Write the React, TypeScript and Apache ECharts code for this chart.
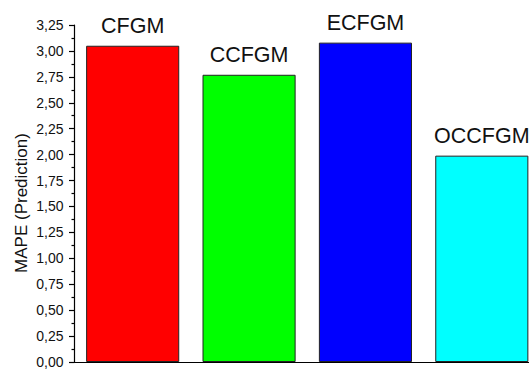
import React, { useEffect, useRef } from "react";
import * as echarts from "echarts";

// Model names and their prediction MAPE
const models = ["CFGM", "CCFGM", "ECFGM", "OCCFGM"];
const mapeValues = [3.05, 2.77, 3.08, 1.99];
const barColors = ["#ff0000", "#00ff00", "#0000ff", "#00ffff"];
const yAxisTitle = "MAPE (Prediction)";

const FONT = "'Liberation Sans', Arial, sans-serif";

export default function App() {
  const ref = useRef<HTMLDivElement>(null);

  useEffect(() => {
    if (!ref.current) return;
    const chart = echarts.init(ref.current, undefined, { renderer: "svg" });
    chart.setOption({
      animation: false,
      backgroundColor: "#ffffff",
      grid: { left: 74.5, right: 0, top: 25, bottom: 3.5, containLabel: false },
      graphic: [
        {
          type: "text",
          x: 21,
          y: 203,
          rotation: Math.PI / 2,
          style: {
            text: yAxisTitle,
            fontFamily: FONT,
            fontSize: 17,
            fill: "#111",
            textAlign: "center",
            textVerticalAlign: "middle",
          },
        },
      ],
      xAxis: {
        type: "category",
        data: models,
        axisLine: { show: true, lineStyle: { color: "#000", width: 1.2 } },
        axisTick: { show: false },
        axisLabel: { show: false },
      },
      yAxis: {
        type: "value",
        min: 0,
        max: 3.25,
        interval: 0.25,
        axisLine: { show: true, lineStyle: { color: "#000", width: 1.2 } },
        axisTick: { show: true, length: 5.5, lineStyle: { color: "#000", width: 1.2 } },
        minorTick: { show: true, splitNumber: 2, length: 3, lineStyle: { color: "#000", width: 1.2 } },
        splitLine: { show: false },
        axisLabel: {
          margin: 11,
          fontFamily: FONT,
          fontSize: 14,
          color: "#111",
          formatter: (v: number) => v.toFixed(2).replace(".", ","),
        },
      },
      series: [
        {
          type: "bar",
          barCategoryGap: "20%",
          data: mapeValues.map((v, i) => ({
            value: v,
            itemStyle: { color: barColors[i], borderColor: "#222", borderWidth: 1 },
          })),
          label: {
            show: true,
            position: "top",
            distance: 9,
            formatter: "{b}",
            fontFamily: FONT,
            fontSize: 21.5,
            color: "#111",
          },
        },
      ],
    });
    return () => chart.dispose();
  }, []);

  return (
    <div
      style={{
        position: "absolute",
        left: 0,
        top: 0,
        width: 529,
        height: 369,
        overflow: "hidden",
      }}
    >
      <div ref={ref} style={{ width: 540, height: 369 }} />
    </div>
  );
}
